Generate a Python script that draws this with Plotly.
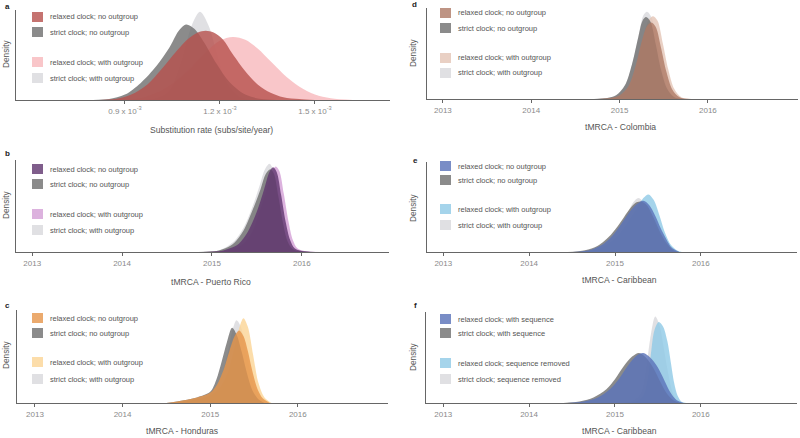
import numpy as np
import plotly.graph_objects as go

W, H = 800, 438
FONT = "Liberation Sans, Arial, sans-serif"

# ---------------- legend labels ----------------
labels_outgroup = ["relaxed clock; no outgroup", "strict clock; no outgroup",
                   "relaxed clock; with outgroup", "strict clock; with outgroup"]
labels_sequence = ["relaxed clock; with sequence", "strict clock; with sequence",
                   "relaxed clock; sequence removed", "strict clock; sequence removed"]

# ---------------- panel a : substitution rate (x in 1e-3 subs/site/year) ----------------
a_relaxed_no_x = [0.82, 0.87, 0.92, 0.97, 1.02, 1.06, 1.10, 1.13, 1.155, 1.18, 1.21, 1.24, 1.28, 1.32, 1.36, 1.40, 1.45, 1.50]
a_relaxed_no_y = [0, 0.01, 0.06, 0.17, 0.36, 0.53, 0.68, 0.75, 0.77, 0.75, 0.67, 0.51, 0.32, 0.17, 0.08, 0.03, 0.01, 0]
a_strict_no_x = [0.80, 0.85, 0.90, 0.95, 1.00, 1.04, 1.07, 1.093, 1.12, 1.15, 1.19, 1.23, 1.28, 1.33, 1.38]
a_strict_no_y = [0, 0.01, 0.06, 0.19, 0.38, 0.58, 0.77, 0.84, 0.79, 0.64, 0.40, 0.20, 0.06, 0.01, 0]
a_relaxed_with_x = [0.90, 0.95, 1.00, 1.05, 1.10, 1.15, 1.20, 1.241, 1.28, 1.32, 1.36, 1.40, 1.45, 1.50, 1.55, 1.62]
a_relaxed_with_y = [0, 0.02, 0.08, 0.18, 0.33, 0.51, 0.66, 0.70, 0.67, 0.57, 0.43, 0.29, 0.15, 0.06, 0.02, 0]
a_strict_with_x = [0.95, 1.00, 1.04, 1.08, 1.11, 1.137, 1.165, 1.19, 1.22, 1.26, 1.30]
a_strict_with_y = [0, 0.02, 0.10, 0.44, 0.82, 0.98, 0.82, 0.52, 0.20, 0.04, 0]
a_tickvals = [0.9, 1.2, 1.5]
a_ticktext = ["0.9 x 10<sup>-3</sup>", "1.2 x 10<sup>-3</sup>", "1.5 x 10<sup>-3</sup>"]

# ---------------- panel b : tMRCA Puerto Rico ----------------
b_relaxed_no_x = [2014.9, 2015.1, 2015.2, 2015.3, 2015.4, 2015.5, 2015.58, 2015.64, 2015.68, 2015.72, 2015.77, 2015.82, 2015.87, 2015.92, 2016.0, 2016.15]
b_relaxed_no_y = [0, 0.01, 0.04, 0.09, 0.22, 0.44, 0.68, 0.87, 0.92, 0.87, 0.62, 0.33, 0.13, 0.04, 0.01, 0]
b_strict_no_x = [2014.85, 2015.05, 2015.15, 2015.25, 2015.35, 2015.45, 2015.54, 2015.6, 2015.65, 2015.69, 2015.74, 2015.79, 2015.84, 2015.9, 2015.98, 2016.1]
b_strict_no_y = [0, 0.01, 0.04, 0.10, 0.23, 0.45, 0.68, 0.85, 0.90, 0.85, 0.60, 0.32, 0.12, 0.03, 0.01, 0]
b_relaxed_with_x = [2014.95, 2015.15, 2015.25, 2015.35, 2015.45, 2015.53, 2015.61, 2015.67, 2015.71, 2015.75, 2015.8, 2015.85, 2015.9, 2015.95, 2016.03, 2016.2]
b_relaxed_with_y = [0, 0.01, 0.04, 0.09, 0.22, 0.44, 0.68, 0.88, 0.93, 0.88, 0.63, 0.34, 0.13, 0.04, 0.01, 0]
b_strict_with_x = [2014.85, 2015.05, 2015.15, 2015.25, 2015.35, 2015.45, 2015.53, 2015.59, 2015.64, 2015.68, 2015.73, 2015.78, 2015.83, 2015.89, 2015.97, 2016.1]
b_strict_with_y = [0, 0.01, 0.05, 0.12, 0.26, 0.49, 0.72, 0.90, 0.96, 0.90, 0.64, 0.34, 0.13, 0.04, 0.01, 0]

# ---------------- panel c : tMRCA Honduras ----------------
c_relaxed_no_x = [2014.5, 2014.7, 2014.85, 2015.0, 2015.08, 2015.15, 2015.22, 2015.28, 2015.33, 2015.38, 2015.43, 2015.48, 2015.54, 2015.6, 2015.68]
c_relaxed_no_y = [0, 0.03, 0.06, 0.11, 0.20, 0.35, 0.56, 0.72, 0.78, 0.72, 0.56, 0.35, 0.15, 0.05, 0]
c_strict_no_x = [2014.5, 2014.7, 2014.85, 2015.0, 2015.07, 2015.13, 2015.19, 2015.25, 2015.3, 2015.36, 2015.42, 2015.48, 2015.55, 2015.62]
c_strict_no_y = [0, 0.03, 0.06, 0.12, 0.25, 0.44, 0.65, 0.81, 0.74, 0.55, 0.32, 0.14, 0.04, 0]
c_relaxed_with_x = [2014.6, 2014.8, 2015.0, 2015.1, 2015.2, 2015.28, 2015.34, 2015.38, 2015.43, 2015.49, 2015.55, 2015.62, 2015.7]
c_relaxed_with_y = [0, 0.03, 0.08, 0.15, 0.32, 0.60, 0.83, 0.91, 0.82, 0.52, 0.22, 0.06, 0]
c_strict_with_x = [2014.55, 2014.75, 2014.9, 2015.0, 2015.08, 2015.15, 2015.21, 2015.26, 2015.3, 2015.35, 2015.4, 2015.46, 2015.52, 2015.59, 2015.66]
c_strict_with_y = [0, 0.02, 0.05, 0.09, 0.18, 0.35, 0.58, 0.80, 0.89, 0.82, 0.60, 0.34, 0.14, 0.04, 0]

# ---------------- panel d : tMRCA Colombia ----------------
d_relaxed_no_x = [2014.75, 2014.9, 2015.0, 2015.1, 2015.18, 2015.25, 2015.31, 2015.36, 2015.41, 2015.47, 2015.53, 2015.6, 2015.68, 2015.8]
d_relaxed_no_y = [0, 0.01, 0.04, 0.14, 0.36, 0.63, 0.80, 0.84, 0.79, 0.56, 0.30, 0.10, 0.02, 0]
d_strict_no_x = [2014.71, 2014.86, 2014.96, 2015.06, 2015.14, 2015.21, 2015.26, 2015.3, 2015.35, 2015.41, 2015.47, 2015.54, 2015.62, 2015.74]
d_strict_no_y = [0, 0.01, 0.04, 0.15, 0.38, 0.67, 0.86, 0.90, 0.85, 0.60, 0.32, 0.11, 0.02, 0]
d_relaxed_with_x = [2014.77, 2014.92, 2015.02, 2015.12, 2015.2, 2015.27, 2015.33, 2015.38, 2015.43, 2015.49, 2015.55, 2015.62, 2015.7, 2015.82]
d_relaxed_with_y = [0, 0.01, 0.04, 0.15, 0.39, 0.68, 0.87, 0.91, 0.86, 0.61, 0.33, 0.11, 0.02, 0]
d_strict_with_x = [2014.72, 2014.87, 2014.97, 2015.07, 2015.15, 2015.22, 2015.27, 2015.31, 2015.36, 2015.42, 2015.48, 2015.55, 2015.63, 2015.75]
d_strict_with_y = [0, 0.01, 0.04, 0.16, 0.41, 0.72, 0.92, 0.96, 0.90, 0.64, 0.34, 0.11, 0.02, 0]

# ---------------- panel e : tMRCA Caribbean ----------------
e_relaxed_no_x = [2014.5, 2014.7, 2014.85, 2014.95, 2015.05, 2015.15, 2015.25, 2015.33, 2015.4, 2015.47, 2015.53, 2015.6, 2015.66, 2015.75]
e_relaxed_no_y = [0, 0.02, 0.08, 0.16, 0.28, 0.42, 0.53, 0.57, 0.52, 0.40, 0.27, 0.14, 0.05, 0]
e_strict_no_x = [2014.45, 2014.65, 2014.8, 2014.95, 2015.05, 2015.15, 2015.23, 2015.3, 2015.37, 2015.45, 2015.52, 2015.6, 2015.68, 2015.75]
e_strict_no_y = [0, 0.02, 0.07, 0.19, 0.31, 0.45, 0.54, 0.56, 0.52, 0.38, 0.23, 0.10, 0.02, 0]
e_relaxed_with_x = [2014.6, 2014.8, 2014.95, 2015.05, 2015.15, 2015.25, 2015.33, 2015.39, 2015.45, 2015.52, 2015.58, 2015.65, 2015.72, 2015.78]
e_relaxed_with_y = [0, 0.03, 0.11, 0.20, 0.33, 0.48, 0.60, 0.64, 0.58, 0.40, 0.22, 0.08, 0.02, 0]
e_strict_with_x = [2014.5, 2014.7, 2014.85, 2014.97, 2015.07, 2015.16, 2015.22, 2015.27, 2015.33, 2015.41, 2015.48, 2015.56, 2015.64, 2015.73]
e_strict_with_y = [0, 0.02, 0.07, 0.17, 0.30, 0.46, 0.56, 0.60, 0.56, 0.42, 0.27, 0.12, 0.03, 0]

# ---------------- panel f : tMRCA Caribbean (sequence removed) ----------------
f_relaxed_seq_x = [2014.45, 2014.65, 2014.8, 2014.95, 2015.05, 2015.15, 2015.25, 2015.33, 2015.41, 2015.5, 2015.58, 2015.65, 2015.72, 2015.8]
f_relaxed_seq_y = [0, 0.02, 0.06, 0.16, 0.27, 0.41, 0.52, 0.55, 0.50, 0.39, 0.24, 0.11, 0.03, 0]
f_strict_seq_x = [2014.4, 2014.6, 2014.75, 2014.9, 2015.0, 2015.1, 2015.2, 2015.28, 2015.36, 2015.45, 2015.53, 2015.6, 2015.68, 2015.76]
f_strict_seq_y = [0, 0.02, 0.06, 0.15, 0.26, 0.40, 0.51, 0.55, 0.50, 0.38, 0.23, 0.11, 0.03, 0]
f_relaxed_removed_x = [2015.1, 2015.25, 2015.33, 2015.38, 2015.42, 2015.46, 2015.51, 2015.56, 2015.61, 2015.65, 2015.69, 2015.73, 2015.78, 2015.83]
f_relaxed_removed_y = [0, 0.02, 0.08, 0.25, 0.55, 0.80, 0.89, 0.84, 0.68, 0.45, 0.22, 0.08, 0.01, 0]
f_strict_removed_x = [2015.05, 2015.2, 2015.3, 2015.36, 2015.41, 2015.47, 2015.52, 2015.57, 2015.62, 2015.67, 2015.72, 2015.78]
f_strict_removed_y = [0, 0.02, 0.10, 0.35, 0.70, 0.95, 0.85, 0.60, 0.33, 0.12, 0.03, 0]

year_ticks = [2013, 2014, 2015, 2016]

GRAY = "rgba(110,110,110,0.8)"
LGRAY = "rgba(216,216,220,0.8)"
BLUE = "rgba(92,116,186,0.82)"
LBLUE = "rgba(143,201,230,0.8)"

panels = [
    dict(tag="a", ax=1, xd=(16, 390), yd=(10, 100), xr=(0.556e-3, 1.737e-3), title="Substitution rate (subs/site/year)", tx=211, ty=130,
         curves=[(a_relaxed_no_x, a_relaxed_no_y), (a_strict_no_x, a_strict_no_y), (a_relaxed_with_x, a_relaxed_with_y), (a_strict_with_x, a_strict_with_y)],
         cols=["rgba(182,80,76,0.8)", GRAY, "rgba(248,184,188,0.8)", LGRAY], labels=labels_outgroup,
         leg=(32, [17, 32, 62, 78]), lab=(3, 6), dens=(6, 54), scale=1e-3),
    dict(tag="b", ax=2, xd=(16, 389), yd=(160, 252), xr=(2012.82, 2016.97), title="tMRCA - Puerto Rico", tx=211, ty=282,
         curves=[(b_relaxed_no_x, b_relaxed_no_y), (b_strict_no_x, b_strict_no_y), (b_relaxed_with_x, b_relaxed_with_y), (b_strict_with_x, b_strict_with_y)],
         cols=["rgba(95,52,110,0.8)", GRAY, "rgba(211,159,214,0.8)", LGRAY], labels=labels_outgroup,
         leg=(32, [169, 184, 214, 230]), lab=(3, 154), dens=(6, 205), scale=1),
    dict(tag="c", ax=3, xd=(17, 388), yd=(310, 403), xr=(2012.795, 2017.03), title="tMRCA - Honduras", tx=182, ty=431,
         curves=[(c_relaxed_no_x, c_relaxed_no_y), (c_strict_no_x, c_strict_no_y), (c_relaxed_with_x, c_relaxed_with_y), (c_strict_with_x, c_strict_with_y)],
         cols=["rgba(230,149,74,0.8)", GRAY, "rgba(251,213,149,0.8)", LGRAY], labels=labels_outgroup,
         leg=(32, [318, 333, 362, 379]), lab=(3, 305), dens=(6, 355), scale=1),
    dict(tag="d", ax=4, xd=(427, 798), yd=(8, 99), xr=(2012.82, 2017.02), title="tMRCA - Colombia", tx=620, ty=127,
         curves=[(d_relaxed_no_x, d_relaxed_no_y), (d_strict_no_x, d_strict_no_y), (d_relaxed_with_x, d_relaxed_with_y), (d_strict_with_x, d_strict_with_y)],
         cols=["rgba(174,121,101,0.8)", GRAY, "rgba(227,196,181,0.8)", LGRAY], labels=labels_outgroup,
         leg=(440, [13, 28, 58, 73]), lab=(410, 5), dens=(413, 53), scale=1),
    dict(tag="e", ax=5, xd=(427, 797), yd=(162, 252), xr=(2012.81, 2017.12), title="tMRCA - Caribbean", tx=619, ty=280,
         curves=[(e_relaxed_no_x, e_relaxed_no_y), (e_strict_no_x, e_strict_no_y), (e_relaxed_with_x, e_relaxed_with_y), (e_strict_with_x, e_strict_with_y)],
         cols=[BLUE, GRAY, LBLUE, LGRAY], labels=labels_outgroup,
         leg=(440, [166, 180, 209, 225]), lab=(411, 160), dens=(413, 208), scale=1),
    dict(tag="f", ax=6, xd=(426, 797), yd=(312, 403), xr=(2012.8, 2017.12), title="tMRCA - Caribbean", tx=619, ty=431,
         curves=[(f_relaxed_seq_x, f_relaxed_seq_y), (f_strict_seq_x, f_strict_seq_y), (f_relaxed_removed_x, f_relaxed_removed_y), (f_strict_removed_x, f_strict_removed_y)],
         cols=[BLUE, GRAY, LBLUE, LGRAY], labels=labels_sequence,
         leg=(440, [319, 333, 363, 379]), lab=(412, 305), dens=(413, 357), scale=1),
]


def px(x):
    return x / W


def py(y):
    return 1 - y / H


fig = go.Figure()
shapes, annotations = [], []
layout = dict(width=W, height=H, margin=dict(l=0, r=0, t=0, b=0),
              paper_bgcolor="white", plot_bgcolor="white", showlegend=False,
              font=dict(family=FONT, color="#555"), hovermode=False)

draw_order = [3, 2, 1, 0]  # light strict, light relaxed, strict, relaxed on top
for p in panels:
    n = p["ax"]
    xa, ya = ("x" if n == 1 else f"x{n}"), ("y" if n == 1 else f"y{n}")
    for i in draw_order:
        xs, ys = p["curves"][i]
        fig.add_trace(go.Scatter(
            x=np.array(xs) * p["scale"], y=ys, xaxis=xa, yaxis=ya,
            mode="lines", line=dict(width=0, shape="spline", smoothing=0.9),
            fill="tozeroy", fillcolor=p["cols"][i], name=p["labels"][i],
            hoverinfo="skip"))
    xkey = "xaxis" if n == 1 else f"xaxis{n}"
    ykey = "yaxis" if n == 1 else f"yaxis{n}"
    if p["tag"] == "a":
        tickvals = [v * 1e-3 for v in a_tickvals]
        ticktext = a_ticktext
    else:
        tickvals = year_ticks
        ticktext = [str(v) for v in year_ticks]
    layout[xkey] = dict(domain=[px(p["xd"][0]), px(p["xd"][1])], anchor=ya,
                        range=list(p["xr"]), showgrid=False, zeroline=False,
                        showline=True, linecolor="#666", linewidth=1,
                        ticks="outside", ticklen=3, tickcolor="#666", tickwidth=1,
                        tickvals=tickvals, ticktext=ticktext, fixedrange=True,
                        tickfont=dict(size=8, color="#8a8a8a", family=FONT))
    layout[ykey] = dict(domain=[py(p["yd"][1]), py(p["yd"][0])], anchor=xa,
                        range=[0, 1], showgrid=False, zeroline=False,
                        showline=True, linecolor="#666", linewidth=1,
                        showticklabels=False, ticks="", fixedrange=True)
    lx, lys = p["leg"]
    for i, yc in enumerate(lys):
        shapes.append(dict(type="rect", xref="paper", yref="paper",
                           x0=px(lx), x1=px(lx + 11), y0=py(yc + 5), y1=py(yc - 5),
                           fillcolor=p["cols"][i], line=dict(width=0)))
        annotations.append(dict(x=px(lx + 16), y=py(yc), xref="paper", yref="paper",
                                text=p["labels"][i], showarrow=False, xanchor="left", yanchor="middle",
                                font=dict(size=7.5, color="#555", family=FONT)))
    annotations.append(dict(x=px(p["tx"]), y=py(p["ty"]), xref="paper", yref="paper",
                            text=p["title"], showarrow=False, xanchor="center", yanchor="middle",
                            font=dict(size=8.6, color="#555", family=FONT)))
    annotations.append(dict(x=px(p["dens"][0]), y=py(p["dens"][1]), xref="paper", yref="paper",
                            text="Density", textangle=-90, showarrow=False,
                            xanchor="center", yanchor="middle",
                            font=dict(size=8.3, color="#555", family=FONT)))
    annotations.append(dict(x=px(p["lab"][0]), y=py(p["lab"][1]), xref="paper", yref="paper",
                            text="<b>" + p["tag"] + "</b>", showarrow=False,
                            xanchor="left", yanchor="middle",
                            font=dict(size=8, color="#222", family=FONT)))

layout["shapes"] = shapes
layout["annotations"] = annotations
fig.update_layout(**layout)
fig.write_html("out.html", config={"displayModeBar": False},
               post_script="document.body.style.margin='0px';document.body.style.overflow='hidden';")
